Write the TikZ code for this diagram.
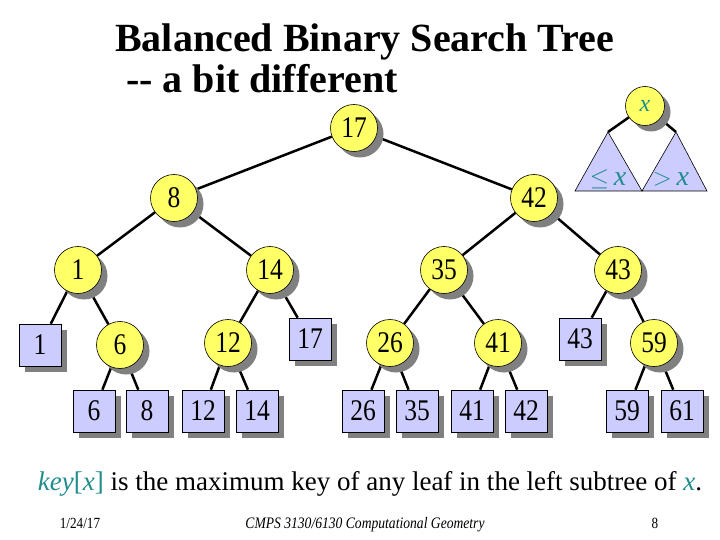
\documentclass[tikz,border=0pt]{standalone}
\usepackage{fontspec}
\setmainfont{Liberation Serif}
\newfontfamily\footfont[FakeStretch=0.85]{Liberation Serif}
\newfontfamily\keyfont[FakeStretch=0.85]{Liberation Serif}
\usetikzlibrary{shadows,backgrounds}
\definecolor{nodeyellow}{RGB}{255,255,102}
\definecolor{leafblue}{RGB}{204,204,255}
\definecolor{keyteal}{RGB}{32,140,140}
\begin{document}
\begin{tikzpicture}[x=1pt, y=-1pt,
                    shade/.style={drop shadow={shadow xshift=6pt, shadow yshift=-6pt, fill=black!50, opacity=1}},
                    inner/.style={circle, draw, line width=0.6pt, fill=nodeyellow, minimum size=47pt, inner sep=0pt, font=\keyfont\fontsize{30}{30}\selectfont, shade},
                    leaf/.style={rectangle, draw, line width=0.6pt, fill=leafblue, minimum size=42pt, inner sep=0pt, font=\keyfont\fontsize{30}{30}\selectfont, shade},
                    branch/.style={line width=2.5pt},
                    subtree/.style={draw, line width=0.6pt, fill=leafblue},
                ]
                \useasboundingbox (0,0) rectangle (720,540);
                % title
                \node[anchor=base west, font=\bfseries\fontsize{40}{40}\selectfont, inner sep=0pt] (title) at (115,52) {Balanced Binary Search Tree};
                \node[anchor=base west, font=\bfseries\fontsize{40}{40}\selectfont, inner sep=0pt] (subtitle) at (126,93) {-{}- a bit different};
                % internal nodes
                \node[inner] (i17) at (354,128) {17};
                \node[inner] (i8) at (174,198) {8};
                \node[inner] (i42) at (534,198) {42};
                \node[inner] (i1) at (78,270) {1};
                \node[inner] (i14) at (270,270) {14};
                \node[inner] (i35) at (444,270) {35};
                \node[inner] (i43) at (618,270) {43};
                \node[inner] (i6) at (120,345) {6};
                \node[inner] (i12) at (228,343) {12};
                \node[inner] (i26) at (390,343) {26};
                \node[inner] (i41) at (498,343) {41};
                \node[inner] (i59) at (654,343) {59};
                % leaves
                \node[leaf] (l1) at (40,345) {1};
                \node[leaf] (l17) at (310,339) {17};
                \node[leaf] (l43) at (580,339) {43};
                \node[leaf] (l6) at (94,411) {6};
                \node[leaf] (l8) at (147,411) {8};
                \node[leaf] (l12) at (203,411) {12};
                \node[leaf] (l14) at (257,411) {14};
                \node[leaf] (l26) at (363,411) {26};
                \node[leaf] (l35) at (417,411) {35};
                \node[leaf] (l41) at (472,411) {41};
                \node[leaf] (l42) at (526,411) {42};
                \node[leaf] (l59) at (627,411) {59};
                \node[leaf] (l61) at (682,411) {61};
                % small picture of a node x
                \node[inner, minimum size=39pt, font=\fontsize{24}{24}\selectfont\itshape\color{keyteal}] (ix) at (645,106) {x};
                \coordinate (lapex) at (608,132);
                \coordinate (rapex) at (676,132);
                \coordinate (mid) at (642,191);
                \draw[subtree] (lapex) -- (575,191) -- (mid) -- cycle;
                \draw[subtree] (rapex) -- (mid) -- (707,191) -- cycle;
                \node[anchor=base, text=keyteal, font=\fontsize{28}{28}\selectfont, inner sep=0pt] (le) at (608,186) {$\leq$\,\textit{x}};
                \node[anchor=base, text=keyteal, font=\fontsize{28}{28}\selectfont, inner sep=0pt] (gt) at (671,186) {$>$\,\textit{x}};
                \begin{scope}[on background layer]
                    \foreach \a/\b in {i17/i8, i17/i42, i8/i1, i8/i14, i42/i35, i42/i43,
                                       i1/l1, i1/i6, i14/i12, i14/l17, i35/i26, i35/i41, i43/l43, i43/i59,
                                       i6/l6, i6/l8, i12/l12, i12/l14, i26/l26, i26/l35, i41/l41, i41/l42,
                                       i59/l59, i59/l61}
                        \draw[branch] (\a) -- (\b);
                    \draw[branch] (ix) -- (lapex);
                    \draw[branch] (ix) -- (rapex);
                \end{scope}
                % caption and footer
                \node[anchor=base, font=\fontsize{27}{27}\selectfont, inner sep=0pt] (caption) at (370,490)
                    {\textcolor{keyteal}{\textit{key}[\textit{x}]} is the maximum key of any leaf in the left subtree of \textcolor{keyteal}{\textit{x}}.};
                \node[anchor=base, font=\footfont\fontsize{15.5}{15.5}\selectfont, inner sep=0pt] (date) at (80,528) {1/24/17};
                \node[anchor=base, font=\footfont\itshape\fontsize{16}{16}\selectfont, inner sep=0pt] (course) at (365,528) {CMPS 3130/6130 Computational Geometry};
                \node[anchor=base, font=\footfont\fontsize{15.5}{15.5}\selectfont, inner sep=0pt] (page) at (655,528) {8};
                \end{tikzpicture}
\end{document}
